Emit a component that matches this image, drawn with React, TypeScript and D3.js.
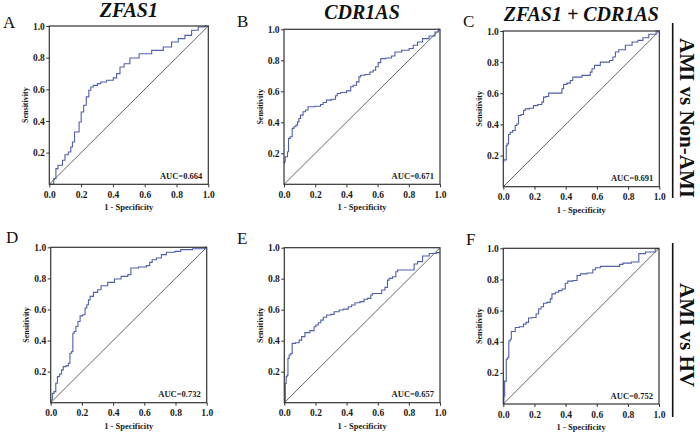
import { useEffect, useRef } from "react";
import * as d3 from "d3";

// ROC points: [1 - specificity, sensitivity]
const rocZfas1Non: [number, number][] = [
  [0, 0], [0.025, 0], [0.031, 0.036], [0.052, 0.099], [0.057, 0.12], [0.078, 0.12],
  [0.088, 0.152], [0.109, 0.187], [0.13, 0.204], [0.14, 0.236], [0.151, 0.267],
  [0.166, 0.33], [0.182, 0.33], [0.193, 0.394], [0.208, 0.457], [0.224, 0.499],
  [0.241, 0.552], [0.256, 0.594], [0.266, 0.615], [0.287, 0.625], [0.319, 0.636],
  [0.329, 0.646], [0.392, 0.657], [0.413, 0.672], [0.434, 0.699], [0.455, 0.741],
  [0.486, 0.762], [0.528, 0.798], [0.602, 0.825], [0.686, 0.846], [0.748, 0.867],
  [0.79, 0.899], [0.832, 0.92], [0.874, 0.941], [0.916, 0.973], [0.958, 0.994], [1, 1],
];
const rocCdr1asNon: [number, number][] = [
  [0, 0.135], [0.004, 0.146], [0.011, 0.178], [0.019, 0.178], [0.026, 0.21], [0.032, 0.296],
  [0.047, 0.307], [0.058, 0.361], [0.069, 0.371], [0.084, 0.382], [0.09, 0.403],
  [0.101, 0.425], [0.111, 0.446], [0.133, 0.468], [0.143, 0.479], [0.165, 0.5],
  [0.229, 0.504], [0.24, 0.515], [0.261, 0.528], [0.283, 0.543], [0.325, 0.549],
  [0.336, 0.571], [0.347, 0.586], [0.379, 0.592], [0.422, 0.603], [0.433, 0.629],
  [0.454, 0.639], [0.475, 0.661], [0.486, 0.693], [0.497, 0.704], [0.54, 0.708],
  [0.561, 0.725], [0.582, 0.736], [0.593, 0.758], [0.615, 0.785], [0.625, 0.811],
  [0.679, 0.815], [0.7, 0.828], [0.722, 0.854], [0.786, 0.865], [0.818, 0.876],
  [0.839, 0.897], [0.872, 0.918], [0.904, 0.94], [0.957, 0.957], [0.979, 0.983], [1, 1],
];
const rocBothNon: [number, number][] = [
  [0, 0.157], [0.006, 0.172], [0.017, 0.172], [0.021, 0.264], [0.028, 0.275], [0.039, 0.335],
  [0.049, 0.35], [0.071, 0.361], [0.081, 0.393], [0.092, 0.403], [0.103, 0.457],
  [0.124, 0.464], [0.135, 0.489], [0.146, 0.5], [0.188, 0.504], [0.199, 0.521],
  [0.242, 0.528], [0.253, 0.543], [0.263, 0.575], [0.285, 0.579], [0.296, 0.601],
  [0.37, 0.601], [0.381, 0.629], [0.392, 0.657], [0.424, 0.665], [0.435, 0.682],
  [0.456, 0.704], [0.552, 0.715], [0.563, 0.736], [0.574, 0.758], [0.595, 0.779],
  [0.649, 0.8], [0.67, 0.8], [0.692, 0.811], [0.713, 0.833], [0.724, 0.865],
  [0.756, 0.88], [0.809, 0.908], [0.842, 0.929], [0.884, 0.94], [0.906, 0.957],
  [0.959, 0.979], [1, 1],
];
const rocZfas1Hv: [number, number][] = [
  [0, 0], [0.006, 0.017], [0.015, 0.06], [0.028, 0.071], [0.037, 0.125], [0.049, 0.168],
  [0.065, 0.185], [0.075, 0.211], [0.086, 0.232], [0.108, 0.237], [0.118, 0.254],
  [0.129, 0.318], [0.14, 0.329], [0.144, 0.447], [0.157, 0.458], [0.166, 0.49],
  [0.183, 0.523], [0.194, 0.559], [0.215, 0.566], [0.226, 0.609], [0.237, 0.63],
  [0.247, 0.662], [0.258, 0.684], [0.29, 0.71], [0.312, 0.727], [0.333, 0.753],
  [0.398, 0.774], [0.419, 0.796], [0.484, 0.813], [0.505, 0.824], [0.523, 0.867],
  [0.602, 0.873], [0.624, 0.882], [0.645, 0.903], [0.656, 0.92], [0.699, 0.931],
  [0.72, 0.953], [0.763, 0.968], [0.828, 0.974], [0.839, 0.985], [0.978, 0.991], [1, 1],
];
const rocCdr1asHv: [number, number][] = [
  [0, 0], [0.004, 0], [0.009, 0.125], [0.015, 0.168], [0.021, 0.178], [0.026, 0.286],
  [0.036, 0.308], [0.047, 0.318], [0.054, 0.383], [0.09, 0.387], [0.101, 0.404],
  [0.122, 0.426], [0.143, 0.452], [0.186, 0.465], [0.197, 0.49], [0.208, 0.501],
  [0.229, 0.516], [0.24, 0.533], [0.261, 0.551], [0.283, 0.566], [0.315, 0.57],
  [0.325, 0.587], [0.347, 0.587], [0.358, 0.598], [0.4, 0.604], [0.422, 0.619],
  [0.443, 0.63], [0.465, 0.645], [0.507, 0.652], [0.518, 0.667], [0.55, 0.673],
  [0.561, 0.695], [0.572, 0.705], [0.615, 0.705], [0.636, 0.727], [0.657, 0.744],
  [0.668, 0.791], [0.679, 0.802], [0.711, 0.813], [0.722, 0.845], [0.732, 0.856],
  [0.829, 0.856], [0.839, 0.895], [0.872, 0.91], [0.904, 0.946], [0.957, 0.963], [1, 0.968],
];
const rocBothHv: [number, number][] = [
  [0, 0], [0.002, 0], [0.006, 0.05], [0.011, 0.147], [0.017, 0.147], [0.021, 0.287],
  [0.032, 0.297], [0.039, 0.405], [0.049, 0.416], [0.054, 0.466], [0.071, 0.466],
  [0.082, 0.491], [0.124, 0.496], [0.135, 0.513], [0.157, 0.524], [0.167, 0.552],
  [0.2, 0.556], [0.221, 0.578], [0.232, 0.61], [0.253, 0.625], [0.264, 0.647],
  [0.296, 0.653], [0.307, 0.675], [0.318, 0.707], [0.35, 0.718], [0.361, 0.728],
  [0.393, 0.739], [0.403, 0.776], [0.425, 0.789], [0.468, 0.793], [0.479, 0.825],
  [0.511, 0.836], [0.564, 0.841], [0.586, 0.862], [0.597, 0.875], [0.65, 0.884],
  [0.736, 0.884], [0.758, 0.897], [0.779, 0.905], [0.865, 0.912], [0.876, 0.966],
  [0.951, 0.976], [1, 0.998],
];

const panelLetters = ["A", "B", "C", "D", "E", "F"];
const panelTitles = ["ZFAS1", "CDR1AS", "ZFAS1 + CDR1AS", "", "", ""];
const aucTexts = ["AUC=0.664", "AUC=0.671", "AUC=0.691", "AUC=0.732", "AUC=0.657", "AUC=0.752"];
const rocSeries = [rocZfas1Non, rocCdr1asNon, rocBothNon, rocZfas1Hv, rocCdr1asHv, rocBothHv];
const rowLabels = ["AMI vs Non-AMI", "AMI vs HV"];
const xTicks = [0, 0.2, 0.4, 0.6, 0.8, 1.0];
const yTicks = [0.2, 0.4, 0.6, 0.8, 1.0];

const frames = [
  [49.3, 26, 208.3, 184.3],
  [284, 29.3, 440, 184.3],
  [503.3, 31, 659.3, 186.7],
  [50.7, 247.3, 206.7, 402.7],
  [284.3, 247.7, 440, 402.7],
  [503.3, 248.3, 659, 404],
];
const letterPos = [[3, 28], [237, 26.7], [463, 26.7], [6, 243], [237, 244], [466, 245]];
const titleY = [17, 19, 21];

const font = "'Liberation Serif', 'Times New Roman', serif";

const App = () => {
  const svgRef = useRef<SVGSVGElement>(null);

  useEffect(() => {
    const svg = d3.select(svgRef.current).attr("width", 700).attr("height", 436);
    svg.selectAll("*").remove();
    svg.append("rect").attr("width", 700).attr("height", 436).attr("fill", "#fff");

    frames.forEach(([l, t, r, b], i) => {
      const x = d3.scaleLinear().domain([0, 1]).range([l, r]);
      const y = d3.scaleLinear().domain([0, 1]).range([b, t]);
      const g = svg.append("g");

      const xAxis = d3.axisBottom(x).tickValues(xTicks).tickFormat(d3.format(".1f")).tickSize(3).tickPadding(4);
      const yAxis = d3.axisLeft(y).tickValues(yTicks).tickFormat(d3.format(".1f")).tickSize(3).tickPadding(1.5);
      const gx = g.append("g").attr("transform", `translate(0,${b})`).call(xAxis);
      const gy = g.append("g").attr("transform", `translate(${l},0)`).call(yAxis);
      [gx, gy].forEach((ax) => {
        ax.select(".domain").remove();
        ax.selectAll("line").attr("stroke", "#333");
        ax.selectAll("text")
          .attr("fill", "#1a1a1a")
          .style("font-family", font)
          .style("font-weight", "bold")
          .style("font-size", "9.5px");
      });

      // chance line
      g.append("line")
        .attr("x1", x(0)).attr("y1", y(0)).attr("x2", x(1)).attr("y2", y(1))
        .attr("stroke", "#555").attr("stroke-width", 0.9);

      const line = d3.line<[number, number]>()
        .x((d) => x(d[0]))
        .y((d) => y(d[1]))
        .curve(d3.curveStep);
      g.append("path")
        .attr("d", line(rocSeries[i]))
        .attr("fill", "none")
        .attr("stroke", "#4f5fad")
        .attr("stroke-width", 1.1);

      g.append("rect")
        .attr("x", l).attr("y", t).attr("width", r - l).attr("height", b - t)
        .attr("fill", "none").attr("stroke", "#333").attr("stroke-width", 1.2);

      g.append("text")
        .attr("x", r - 6).attr("y", b - 5.5)
        .attr("text-anchor", "end")
        .style("font-family", font).style("font-weight", "bold").style("font-size", "8.5px")
        .attr("fill", "#1a1a1a")
        .text(aucTexts[i]);

      g.append("text")
        .attr("x", (l + r) / 2).attr("y", b + 26)
        .attr("text-anchor", "middle")
        .style("font-family", font).style("font-weight", "bold").style("font-size", "8.5px")
        .attr("fill", "#1a1a1a")
        .text("1 - Specificity");

      g.append("text")
        .attr("transform", `translate(${l - 21.5},${(t + b) / 2}) rotate(-90)`)
        .attr("text-anchor", "middle")
        .style("font-family", font).style("font-weight", "bold").style("font-size", "8px")
        .attr("fill", "#1a1a1a")
        .text("Sensitivity");

      g.append("text")
        .attr("x", letterPos[i][0]).attr("y", letterPos[i][1])
        .style("font-family", font).style("font-size", "17px")
        .attr("fill", "#111")
        .text(panelLetters[i]);

      if (panelTitles[i]) {
        g.append("text")
          .attr("x", (l + r) / 2).attr("y", titleY[i])
          .attr("text-anchor", "middle")
          .style("font-family", font).style("font-weight", "bold").style("font-style", "italic")
          .style("font-size", "20px")
          .attr("fill", "#111")
          .text(panelTitles[i]);
      }
    });

    // row labels on the right
    const rows = [[23, 198, 118], [243, 417, 335]];
    rows.forEach(([y1, y2, yc], i) => {
      svg.append("line")
        .attr("x1", 672.7).attr("x2", 672.7).attr("y1", y1).attr("y2", y2)
        .attr("stroke", "#111").attr("stroke-width", 1.6);
      svg.append("text")
        .attr("transform", `translate(680,${yc}) rotate(90)`)
        .attr("text-anchor", "middle")
        .style("font-family", font).style("font-weight", "bold").style("font-size", "21px")
        .attr("fill", "#111")
        .text(rowLabels[i]);
    });
  }, []);

  return (
    <div style={{ position: "absolute", left: 0, top: 0 }}>
      <svg ref={svgRef} style={{ display: "block" }}></svg>
    </div>
  );
};

export default App;
